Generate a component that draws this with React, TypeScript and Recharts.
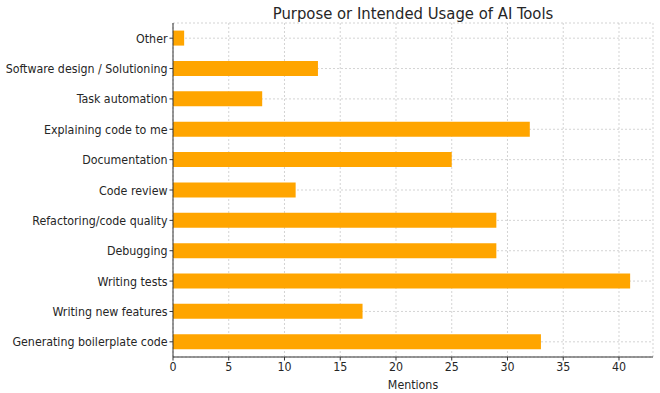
import { BarChart, Bar, XAxis, YAxis, CartesianGrid, Label } from 'recharts';

const categorias = [
    'Other',
    'Software design / Solutioning',
    'Task automation',
    'Explaining code to me',
    'Documentation',
    'Code review',
    'Refactoring/code quality',
    'Debugging',
    'Writing tests',
    'Writing new features',
    'Generating boilerplate code',
];

const menciones = [1, 13, 8, 32, 25, 11, 29, 29, 41, 17, 33];

const ticksX = [0, 5, 10, 15, 20, 25, 30, 35, 40];

const FUENTE = '"DejaVu Sans Condensed", "DejaVu Sans", sans-serif';
const TEXTO = '#262626';

// etiqueta del eje Y sin cortes de línea
function TickCategoria({ x, y, payload }: any) {
    return (
        <text x={x} y={y} dy={4.5} textAnchor="end" fill={TEXTO} fontSize={12.3} fontFamily={FUENTE}>
            {payload.value}
        </text>
    );
}

// Gráfico de barras horizontales: usos de herramientas de IA
export default function App() {
    const data = categorias.map((nombre, i) => ({ nombre, valor: menciones[i] }));

    return (
        <div style={{ position: 'relative', width: 660, height: 393, fontFamily: FUENTE }}>
            <style>{'body{margin:0;}'}</style>
            <div
                style={{
                    position: 'absolute', left: 173, width: 480, top: 3, textAlign: 'center',
                    fontSize: 16.5, color: TEXTO, lineHeight: '22px',
                }}
            >
                Purpose or Intended Usage of AI Tools
            </div>
            <BarChart
                width={660}
                height={393}
                data={data}
                layout="vertical"
                margin={{ top: 23, right: 7, bottom: 0, left: 0 }}
                barCategoryGap="25%"
            >
                <CartesianGrid stroke="#b0b0b0" strokeOpacity={0.55} strokeDasharray="2 2" />
                <XAxis
                    type="number"
                    domain={[0, 43.05]}
                    ticks={ticksX}
                    height={36}
                    tickSize={3.5}
                    tickMargin={2}
                    stroke="#333"
                    tick={{ fill: TEXTO, fontSize: 12.3, fontFamily: FUENTE }}
                    allowDataOverflow
                >
                    <Label value="Mentions" position="insideBottom" offset={4} style={{ fill: TEXTO, fontSize: 12.3, fontFamily: FUENTE }} />
                </XAxis>
                <YAxis
                    type="category"
                    dataKey="nombre"
                    width={173}
                    tickSize={3.5}
                    tickMargin={2}
                    stroke="#333"
                    interval={0}
                    tick={<TickCategoria />}
                />
                <Bar dataKey="valor" fill="#FFA500" isAnimationActive={false} />
            </BarChart>
        </div>
    );
}
